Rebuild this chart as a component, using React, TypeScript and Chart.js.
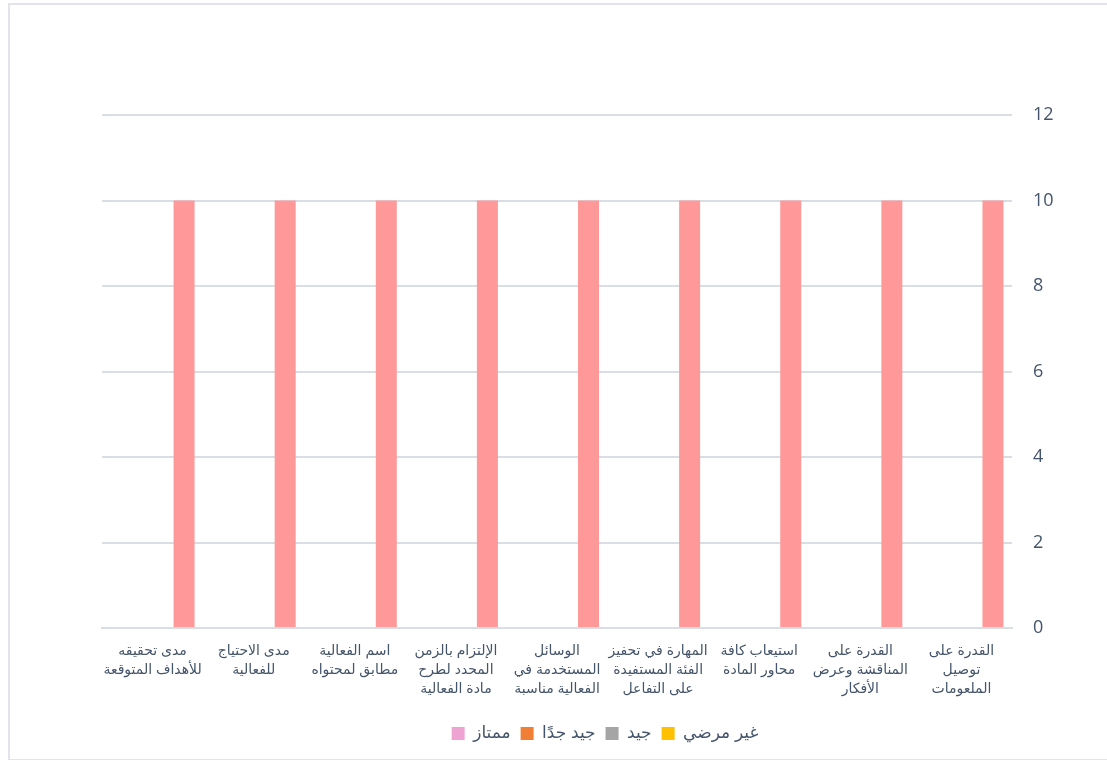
import React, { useEffect, useRef } from "react";
import { Chart, registerables } from "chart.js";

Chart.register(...registerables);

const categories: string[][] = [
  ["القدرة على", "توصيل", "الملعومات"],
  ["القدرة على", "المناقشة وعرض", "الأفكار"],
  ["استيعاب كافة", "محاور المادة"],
  ["المهارة في تحفيز", "الفئة المستفيدة", "على التفاعل"],
  ["الوسائل", "المستخدمة في", "الفعالية مناسبة"],
  ["الإلتزام بالزمن", "المحدد لطرح", "مادة الفعالية"],
  ["اسم الفعالية", "مطابق لمحتواه"],
  ["مدى الاحتياج", "للفعالية"],
  ["مدى تحقيقه", "للأهداف المتوقعة"],
];

const seriesNames = ["غير مرضي", "جيد", "جيد جدًا", "ممتاز"];
const unsatisfactory = [0, 0, 0, 0, 0, 0, 0, 0, 0];
const good = [0, 0, 0, 0, 0, 0, 0, 0, 0];
const veryGood = [0, 0, 0, 0, 0, 0, 0, 0, 0];
const excellent = [10, 10, 10, 10, 10, 10, 10, 10, 10];
const barColors = ["#FFC000", "#A5A5A5", "#F07F35", "#FF9999"];
const legendColors = ["#FFC000", "#A5A5A5", "#F07F35", "#EFA3D3"];
const yTicks = [0, 2, 4, 6, 8, 10, 12];

const textColor = "#44546A";
const gridColor = "#D9DDE4";

export default function App() {
  const ref = useRef<HTMLCanvasElement | null>(null);

  useEffect(() => {
    document.body.style.margin = "0";
    document.body.style.overflow = "hidden";
    document.documentElement.style.overflow = "hidden";
    const canvas = ref.current;
    if (!canvas) return;
    const values = [unsatisfactory, good, veryGood, excellent];
    const chart = new Chart(canvas, {
      type: "bar",
      data: {
        labels: categories,
        datasets: seriesNames.map((name, i) => ({
          label: name,
          data: values[i],
          backgroundColor: barColors[i],
          borderWidth: 0,
          categoryPercentage: 0.831,
          barPercentage: 1,
        })),
      },
      options: {
        responsive: false,
        animation: false,
        layout: { padding: { left: 92, top: 110, right: 0, bottom: 7 } },
        plugins: {
          tooltip: { enabled: false },
          legend: {
            position: "bottom",
            reverse: true,
            labels: {
              boxWidth: 13,
              boxHeight: 13,
              padding: 10,
              color: textColor,
              font: { size: 17, family: "Arial, 'DejaVu Sans', sans-serif" },
              generateLabels: (c: any) => {
                const items = Chart.defaults.plugins.legend.labels.generateLabels(c);
                return items.map((it: any) => ({
                  ...it,
                  fillStyle: legendColors[it.datasetIndex],
                  strokeStyle: legendColors[it.datasetIndex],
                  lineWidth: 0,
                }));
              },
            },
          },
        },
        scales: {
          x: {
            reverse: true,
            grid: { display: true, color: "transparent", drawTicks: false },
            border: { display: true, color: gridColor, width: 2 },
            ticks: {
              color: textColor,
              padding: 14,
              maxRotation: 0,
              autoSkip: false,
              font: { size: 14, family: "Arial, 'DejaVu Sans', sans-serif", lineHeight: 1.36 },
            },
            afterFit: (s: any) => {
              s.height = 87;
            },
          },
          y: {
            position: "right",
            min: 0,
            max: 12,
            afterBuildTicks: (s: any) => {
              s.ticks = yTicks.map((v) => ({ value: v }));
            },
            grid: { color: gridColor, lineWidth: 2, drawTicks: false },
            border: { display: false },
            ticks: {
              color: textColor,
              padding: 21,
              font: { size: 18, family: "'Open Sans', 'Noto Sans', sans-serif" },
            },
            afterFit: (s: any) => {
              s.width = 96;
            },
          },
        },
      },
    });
    return () => chart.destroy();
  }, []);

  return (
    <div
      style={{
        position: "absolute",
        left: 8,
        top: 3,
        width: 1100,
        height: 754,
        border: "2px solid #E1E4EA",
        borderRight: "none",
        boxSizing: "content-box",
        background: "#fff",
      }}
    >
      <canvas ref={ref} width={1098} height={754} style={{ width: 1098, height: 754, display: "block" }} />
    </div>
  );
}
